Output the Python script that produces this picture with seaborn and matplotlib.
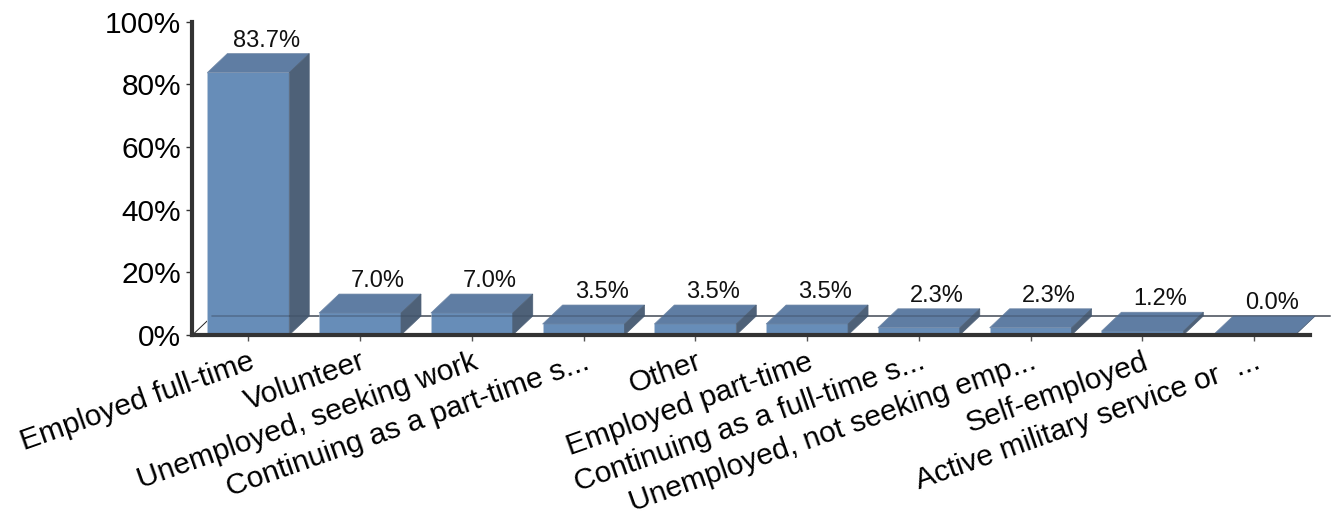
import matplotlib
matplotlib.use('Agg')
import matplotlib.pyplot as plt
from matplotlib.patches import Polygon
import pandas as pd
import seaborn as sb

#datos
categorias = ['Employed full-time', 'Volunteer', 'Unemployed, seeking work',
              'Continuing as a part-time s...', 'Other', 'Employed part-time',
              'Continuing as a full-time s...', 'Unemployed, not seeking emp...',
              'Self-employed', 'Active military service or  ...']
valores = [83.7, 7.0, 7.0, 3.5, 3.5, 3.5, 2.3, 2.3, 1.2, 0.0]
etiquetas_y = ['0%', '20%', '40%', '60%', '80%', '100%']
ticks_y = [0, 20, 40, 60, 80, 100]

df = pd.DataFrame({'categoria': categorias, 'valor': valores})

sb.set_style('white')
plt.rcParams['font.family'] = ['Liberation Sans', 'DejaVu Sans']

fig = plt.figure(figsize=(13.41, 5.2), dpi=100)
ax = fig.add_axes([192.4 / 1341, 185 / 520, 1117.6 / 1341, 313.5 / 520])

sb.barplot(data=df, x='categoria', y='valor', color='#678DB8', saturation=1,
           width=0.733, ax=ax)
ax.set_xlim(-0.5, 9.5)
ax.set_ylim(0, 100)
ax.set_xlabel('')
ax.set_ylabel('')

#profundidad del efecto 3D en unidades de datos
DX = 20 / 111.76
DY = 19 / 3.135

#piso de la grafica
ax.plot([-0.5, -0.5 + DX], [0, DY], color='#222222', lw=0.7, zorder=1, clip_on=False)
ax.plot([-0.5 + DX, 9.5 + DX], [DY, DY], color='#8a8a8a', lw=1.4, zorder=1, clip_on=False)

#caras superior y lateral de cada barra
for bar, v in zip(list(ax.patches), valores):
    x0 = bar.get_x()
    x1 = x0 + bar.get_width()
    h = bar.get_height()
    bar.set_zorder(3)
    bar.set_edgecolor('none')
    ax.add_patch(Polygon([(x0, h), (x1, h), (x1 + DX, h + DY), (x0 + DX, h + DY)],
                         closed=True, facecolor='#5F7DA3', edgecolor='#6f87a6',
                         lw=0.5, zorder=3, clip_on=False))
    ax.add_patch(Polygon([(x1, 0), (x1 + DX, DY), (x1 + DX, h + DY), (x1, h)],
                         closed=True, facecolor='#4E6178', edgecolor='#4E6178',
                         lw=0.5, zorder=3, clip_on=False))
    if h > 0:
        ax.plot([x0, x0], [0, h], color='#b9c9dc', lw=0.7, zorder=4)
    ax.annotate(f'{v:.1f}%', xy=(x0 + bar.get_width() / 2 + DX * 0.9, h + DY),
                xytext=(0, 1.5), textcoords='offset points', ha='center', va='bottom',
                fontsize=17, color='#111111', zorder=6, annotation_clip=False)

#la linea del fondo se ve a traves de las barras
ax.plot([-0.5 + DX, 9.5 + DX], [DY, DY], color='#3a4a60', lw=1.2, alpha=0.45, zorder=4,
        clip_on=False)

ax.set_yticks(ticks_y)
ax.set_yticklabels(etiquetas_y, fontsize=21.5, color='black')
ax.tick_params(axis='y', length=4, width=1, color='#333333', pad=4, left=True)
ax.tick_params(axis='x', length=4, width=1, color='#555555', pad=5, bottom=True)
ax.set_xticks(range(len(categorias)))
ax.set_xticklabels(categorias, fontsize=21.5, rotation=19.5, ha='right',
                   rotation_mode='anchor', color='black')

sb.despine(ax=ax)
for lado in ['left', 'bottom']:
    ax.spines[lado].set_linewidth(3)
    ax.spines[lado].set_color('#333333')
    ax.spines[lado].set_zorder(5)

fig.savefig('out.png', dpi=100)
